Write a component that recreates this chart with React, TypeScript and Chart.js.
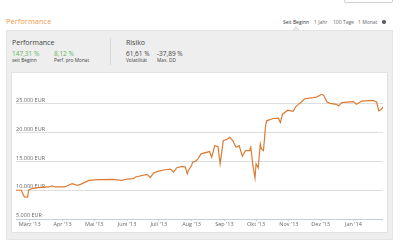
import React, { useEffect, useRef } from "react";
import { Chart, registerables } from "chart.js";

Chart.register(...registerables);

const dates: string[] = [
  "2013-02-16", "2013-02-21", "2013-02-23", "2013-02-24", "2013-02-27", "2013-02-28",
  "2013-03-03", "2013-03-09", "2013-03-19", "2013-03-22", "2013-03-25", "2013-04-03",
  "2013-04-10", "2013-04-15", "2013-04-18", "2013-04-26", "2013-05-05", "2013-05-18",
  "2013-05-27", "2013-06-01", "2013-06-07", "2013-06-09", "2013-06-20", "2013-06-23",
  "2013-06-26", "2013-07-01", "2013-07-07", "2013-07-12", "2013-07-15", "2013-07-18",
  "2013-07-23", "2013-07-26", "2013-07-28", "2013-07-29", "2013-08-01", "2013-08-02",
  "2013-08-05", "2013-08-07", "2013-08-10", "2013-08-18", "2013-08-20", "2013-08-23",
  "2013-08-26", "2013-08-28", "2013-08-31", "2013-09-04", "2013-09-06", "2013-09-09",
  "2013-09-12", "2013-09-15", "2013-09-18", "2013-09-21", "2013-09-25", "2013-09-26",
  "2013-09-28", "2013-09-30", "2013-10-01", "2013-10-03", "2013-10-05", "2013-10-06",
  "2013-10-08", "2013-10-10", "2013-10-11", "2013-10-17", "2013-10-22", "2013-10-24",
  "2013-10-26", "2013-10-31", "2013-11-05", "2013-11-08", "2013-11-10", "2013-11-12",
  "2013-11-16", "2013-11-24", "2013-11-27", "2013-12-02", "2013-12-04", "2013-12-07",
  "2013-12-10", "2013-12-16", "2013-12-18", "2013-12-21", "2014-01-01", "2014-01-04",
  "2014-01-09", "2014-01-19", "2014-01-23", "2014-01-25", "2014-01-27", "2014-01-29",
];

const values: number[] = [
  10000, 10000, 9140, 8850, 8800, 10000,
  10290, 10460, 10570, 10740, 10570, 10570,
  11150, 10860, 11030, 11720, 11840, 11900,
  11720, 11950, 12010, 12300, 12760, 12190,
  12990, 13330, 13560, 13680, 13160, 13910,
  14140, 14030, 12880, 13450, 14310, 14880,
  15050, 15460, 16330, 16720, 15740, 17760,
  17570, 14600, 18620, 18910, 19190, 18620,
  17470, 17760, 15910, 16900, 16900, 17470,
  14310, 12130, 14600, 13890, 18050, 17190,
  16900, 21210, 22070, 22470, 22530, 21780,
  23220, 23910, 23730, 24640, 24930, 25220,
  25910, 26090, 26200, 26680, 26500, 25340,
  25110, 24930, 24640, 25220, 25400, 24930,
  25510, 25630, 25340, 23800, 23970, 24500,
];

const monthTicks: string[] = [
  "2013-03-01", "2013-04-01", "2013-05-01", "2013-06-01", "2013-07-01", "2013-08-01",
  "2013-09-01", "2013-10-01", "2013-11-01", "2013-12-01", "2014-01-01",
];
const monthLabels: string[] = [
  "März '13", "Apr '13", "Mai '13", "Juni '13", "Juli '13", "Aug '13",
  "Sep '13", "Okt '13", "Nov '13", "Dez '13", "Jan '14",
];
const yTicks: number[] = [5000, 10000, 15000, 20000, 25000];

const BASE = Date.UTC(2013, 2, 1);
function dayOf(s: string): number {
  const [y, m, d] = s.split("-").map(Number);
  return (Date.UTC(y, m - 1, d) - BASE) / 86400000;
}
function fmtEur(v: number): string {
  const s = String(Math.round(v));
  return s.replace(/\B(?=(\d{3})+(?!\d))/g, ".") + " EUR";
}

const FONT = "'Open Sans', 'DejaVu Sans', sans-serif";

function PerfChart() {
  const ref = useRef<HTMLCanvasElement | null>(null);
  useEffect(() => {
    if (!ref.current) return;
    const tickDays = monthTicks.map(dayOf);
    const chart = new Chart(ref.current, {
      type: "line",
      data: {
        datasets: [
          {
            data: dates.map((d, i) => ({ x: dayOf(d), y: values[i] })),
            borderColor: "#db7b33",
            borderWidth: 1.2,
            pointRadius: 0,
            tension: 0,
            fill: false,
          },
        ],
      },
      options: {
        animation: false,
        responsive: true,
        maintainAspectRatio: false,
        layout: { padding: { left: 5, right: 4, top: 15, bottom: 0 } },
        plugins: { legend: { display: false }, tooltip: { enabled: false } },
        scales: {
          x: {
            type: "linear",
            min: dayOf(dates[0]),
            max: dayOf(dates[dates.length - 1]),
            afterBuildTicks: (s: any) => {
              s.ticks = tickDays.map((v) => ({ value: v }));
            },
            afterFit: (s: any) => {
              s.height = 14;
            },
            border: { display: false },
            grid: {
              drawOnChartArea: false,
              drawTicks: true,
              tickLength: 2,
              color: "#c0d0e0",
            },
            ticks: {
              padding: 0,
              maxRotation: 0,
              autoSkip: false,
              color: "#666",
              font: { family: FONT, size: 5.5 },
              callback: (v: any) => {
                const i = tickDays.indexOf(Number(v));
                return i >= 0 ? monthLabels[i] : "";
              },
            },
          },
          y: {
            type: "linear",
            min: 5000,
            max: 27950,
            afterBuildTicks: (s: any) => {
              s.ticks = yTicks.map((v) => ({ value: v }));
            },
            border: { display: false },
            grid: {
              drawTicks: false,
              color: (c: any) => (c.tick && c.tick.value === 5000 ? "#c0d0e0" : "#dedede"),
              lineWidth: 1,
            },
            ticks: {
              mirror: true,
              padding: 0,
              labelOffset: -3.5,
              color: "#666",
              font: { family: FONT, size: 5.5 },
              callback: (v: any) => fmtEur(Number(v)),
            },
          },
        },
      },
    });
    return () => chart.destroy();
  }, []);
  return <canvas ref={ref} />;
}

const abs = (l: number, t: number, extra: React.CSSProperties = {}): React.CSSProperties => ({
  position: "absolute",
  left: l,
  top: t,
  whiteSpace: "nowrap",
  lineHeight: 1,
  ...extra,
});

export default function App() {
  useEffect(() => {
    document.body.style.margin = "0";
  }, []);
  const dark = "#444";
  const green = "#5cb85c";
  return (
    <div style={{ position: "relative", width: 400, height: 250, overflow: "hidden", background: "#fff", fontFamily: FONT }}>
      {/* top-right cut box */}
      <div style={abs(344, -10, { width: 47, height: 11, border: "1px solid #cfcfcf", borderRadius: 2 })} />
      {/* title */}
      <div style={abs(6, 18, { fontSize: 7.5, color: "#f29b4c" })}>Performance</div>
      {/* range tabs */}
      <div style={abs(283, 19.5, { fontSize: 5, color: "#333" })}>Seit Beginn</div>
      <div style={abs(314, 19.5, { fontSize: 5, color: "#666" })}>1 Jahr</div>
      <div style={abs(333, 19.5, { fontSize: 5, color: "#666" })}>100 Tage</div>
      <div style={abs(358, 19.5, { fontSize: 5, color: "#666" })}>1 Monat</div>
      <div style={abs(381.5, 19.5, { width: 4, height: 4, borderRadius: "50%", background: "#555" })} />
      {/* panel */}
      <div style={abs(6, 30, { width: 387, height: 210, background: "#eeeeee", border: "1px solid #e4e4e4", boxSizing: "border-box" })} />
      {/* tab pointer */}
      <div style={abs(293, 26, { width: 0, height: 0, borderLeft: "3.5px solid transparent", borderRight: "3.5px solid transparent", borderBottom: "4px solid #d4d4d4" })} />
      <div style={abs(294, 27.2, { width: 0, height: 0, borderLeft: "2.5px solid transparent", borderRight: "2.5px solid transparent", borderBottom: "3px solid #eeeeee" })} />
      {/* stats */}
      <div style={abs(12, 39, { fontSize: 7, color: dark })}>Performance</div>
      <div style={abs(12, 51, { fontSize: 6.5, color: green })}>147,31 %</div>
      <div style={abs(12, 58, { fontSize: 4.8, color: dark })}>seit Beginn</div>
      <div style={abs(54, 51, { fontSize: 6.5, color: green })}>8,12 %</div>
      <div style={abs(54, 58, { fontSize: 4.8, color: dark })}>Perf. pro Monat</div>
      <div style={abs(110, 38, { width: 1, height: 27, background: "#dadada" })} />
      <div style={abs(126, 39, { fontSize: 7, color: dark })}>Risiko</div>
      <div style={abs(126, 51, { fontSize: 6.5, color: dark })}>61,61 %</div>
      <div style={abs(126, 58, { fontSize: 4.8, color: dark })}>Volatilität</div>
      <div style={abs(157, 51, { fontSize: 6.5, color: dark })}>-37,89 %</div>
      <div style={abs(157, 58, { fontSize: 4.8, color: dark })}>Max. DD</div>
      {/* white chart box */}
      <div style={abs(11, 72, { width: 377, height: 161, background: "#fff", border: "1px solid #e2e2e2", boxSizing: "border-box" })} />
      <div style={abs(11, 72, { width: 376, height: 161 })}>
        <PerfChart />
      </div>
    </div>
  );
}
